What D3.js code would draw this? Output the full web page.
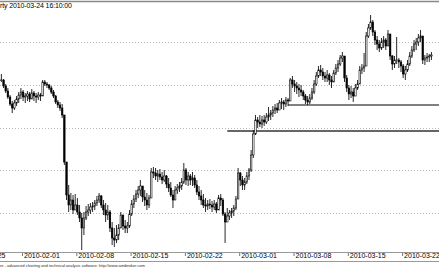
<!DOCTYPE html>
<html>
<head>
<meta charset="utf-8">
<script src="https://cdn.jsdelivr.net/npm/d3@7"></script>
<style>
html, body { margin: 0; padding: 0; background: #fff; overflow: hidden; }
svg { display: block; }
text { font-family: "Liberation Sans", Arial, sans-serif; }
</style>
</head>
<body>
<div id="chart"></div>
<script>
// trading day index 0 = Monday 2010-01-25, one tick per Monday
var weekDays = [0, 5, 10, 15, 20, 25, 30, 35, 40];
var weekLabels = ["2010-01-25", "2010-02-01", "2010-02-08", "2010-02-15", "2010-02-22",
                  "2010-03-01", "2010-03-08", "2010-03-15", "2010-03-22"];

// hourly-ish bars, first one on Thu 2010-01-28
var firstDay = 3, barsPerDay = 5;

var hi = [42.6,42.1,41.6,41.2,40.5,39.9,40.0,40.4,40.8,41.2,41.0,40.7,40.9,40.8,41.1,40.9,40.7,40.8,40.7,42.0,
          42.0,41.8,41.6,41.4,41.0,40.5,40.0,39.8,39.6,38.5,33.5,31.5,30.7,30.5,30.6,30.2,29.5,28.7,28.8,29.4,
          29.6,29.7,29.8,30.0,30.4,30.7,30.5,30.0,29.7,29.5,29.0,27.8,27.2,27.5,27.6,28.8,28.5,28.0,27.8,29.0,
          30.0,30.5,31.0,31.4,32.0,31.4,31.0,30.7,30.5,33.2,33.3,33.2,33.0,33.1,32.8,33.0,32.5,32.2,31.8,31.0,
          31.4,31.6,31.8,32.2,33.7,33.2,32.8,32.6,32.8,32.5,32.0,31.4,31.0,30.6,30.2,30.0,30.1,29.9,30.0,29.8,
          30.5,30.6,30.2,28.8,29.2,29.0,29.2,29.5,30.4,33.2,32.8,32.4,32.2,32.8,33.2,35.0,37.0,38.5,38.3,38.5,
          38.4,38.5,38.7,39.3,39.0,39.4,39.6,39.7,40.0,40.2,40.0,40.3,40.2,42.2,42.4,42.0,41.8,41.6,41.5,41.0,
          40.6,40.4,40.6,41.2,42.0,42.8,43.4,43.5,43.2,42.8,43.0,42.7,42.4,43.0,43.6,44.0,44.5,44.8,44.4,42.5,
          41.5,41.4,41.2,41.6,42.0,43.4,43.6,44.7,46.8,47.6,48.5,48.0,47.0,46.4,46.0,46.2,46.4,46.2,47.0,46.6,
          44.5,44.4,46.3,44.2,44.0,43.6,43.4,44.0,44.8,45.4,46.0,46.2,46.6,47.0,46.0,44.5,44.7,44.6,44.8];

var lo = [41.8,41.2,40.7,40.1,39.4,38.7,39.0,39.4,39.7,40.1,39.9,39.7,39.9,39.8,40.1,39.9,39.7,40.0,39.9,40.4,
          41.4,41.2,41.0,40.6,40.2,39.6,39.2,38.9,38.2,33.5,30.0,28.8,29.0,28.6,29.0,28.5,27.8,25.0,26.5,28.0,
          28.4,28.6,28.8,29.0,29.4,29.7,29.2,28.5,27.8,28.0,26.8,25.5,25.3,25.7,26.0,27.2,27.0,26.7,26.7,27.2,
          28.4,29.2,29.8,30.2,30.4,29.8,29.4,29.0,29.2,32.0,32.2,32.0,31.8,32.0,31.6,31.8,31.2,30.8,30.3,29.2,
          30.2,30.6,30.8,31.0,31.6,31.5,31.4,31.5,31.4,31.2,30.5,30.0,29.5,29.2,28.8,29.0,29.1,28.8,29.0,28.7,
          29.0,29.4,28.4,25.7,27.8,28.0,28.2,28.4,29.0,32.0,31.4,31.0,31.0,31.6,32.0,32.8,34.2,36.5,37.2,37.3,
          37.2,37.4,37.6,37.9,38.0,38.3,38.6,38.7,39.0,39.1,39.0,39.3,39.4,40.6,41.2,40.8,40.6,40.3,40.4,40.0,
          39.6,39.5,39.6,40.0,40.6,41.4,42.2,42.4,42.0,41.8,41.8,41.5,41.2,41.8,42.5,42.8,43.4,43.8,41.8,40.8,
          40.0,40.2,39.8,40.4,41.0,42.0,42.6,42.8,45.6,46.2,47.0,46.4,45.5,45.0,44.8,45.0,45.2,45.0,45.4,44.0,
          43.0,43.2,43.6,43.2,42.8,42.2,42.0,42.8,43.4,44.2,44.8,45.0,45.4,45.8,43.6,43.5,43.8,43.8,44.0];

var cl = [42.0,41.4,40.9,40.3,39.6,39.2,39.7,40.1,40.5,40.8,40.3,40.4,40.6,40.1,40.7,40.4,40.3,40.5,40.4,41.8,
          41.6,41.5,41.2,40.8,40.4,39.8,39.5,39.2,38.5,33.8,30.5,29.5,30.0,29.0,29.5,28.8,28.2,27.2,28.2,28.8,
          29.0,29.3,29.4,29.7,30.0,30.4,29.5,29.0,28.5,28.8,27.2,26.2,26.0,26.5,27.2,28.5,27.4,27.2,27.4,28.6,
          29.6,30.1,30.6,31.0,31.4,30.3,30.0,29.5,30.2,32.8,32.7,32.4,32.6,32.3,32.0,32.4,31.6,31.2,30.5,30.0,
          31.0,31.2,31.4,31.8,33.0,32.0,32.4,32.0,32.2,31.5,30.8,30.4,30.0,29.5,29.4,29.6,29.5,29.3,29.6,29.0,
          30.2,30.0,28.6,27.8,28.4,28.7,28.9,29.2,30.1,32.7,32.0,31.5,31.8,32.4,33.0,34.5,36.6,38.0,37.8,37.6,
          38.0,37.8,38.3,38.5,38.7,39.0,39.2,39.0,39.7,39.8,39.6,40.0,39.9,42.0,41.6,41.4,41.2,41.0,40.8,40.4,
          40.0,39.8,40.2,40.8,41.6,42.4,43.0,42.8,42.4,42.2,42.5,42.0,41.8,42.7,43.2,43.6,44.2,44.4,42.2,41.2,
          40.6,40.8,40.4,41.2,41.6,43.0,43.2,43.4,46.4,47.2,47.8,46.8,46.0,45.6,45.2,45.8,46.0,45.4,46.6,44.4,
          43.6,44.0,44.0,43.8,43.4,42.6,43.0,43.6,44.4,45.0,45.6,45.8,46.2,46.4,44.0,44.2,44.3,44.4,44.5];

var gridLevels = [28.75, 33, 37.25, 41.5, 45.75];

// horizontal study lines: price level and the bar they start from
var levelPrice = [36.9, 39.5];
var levelFromBar = [104, 132];
var levelColor = ["#333", "#555"];

var title = "rty 2010-03-24 16:10:00";
var footer = "er - advanced charting and technical analysis software. http://www.amibroker.com";

var width = 439, height = 268;
var axisY = 252;

var svg = d3.select("#chart").append("svg")
    .attr("width", width)
    .attr("height", height);

var x = d3.scaleLinear().domain([0, 40]).range([-32.3, 402.1]);
var y = d3.scaleLinear().domain([24.5, 50]).range([255, 0]);

function barT(i) { return firstDay + (i + 0.5) / barsPerDay; }

// dotted grid
svg.append("g").selectAll("line")
    .data(gridLevels)
    .enter().append("line")
    .attr("x1", 0).attr("x2", width)
    .attr("y1", d => Math.round(y(d)) + 0.5)
    .attr("y2", d => Math.round(y(d)) + 0.5)
    .attr("stroke", "#bbb")
    .attr("stroke-dasharray", "1,2");

// level lines
svg.append("g").selectAll("line")
    .data(levelPrice)
    .enter().append("line")
    .attr("x1", (d, i) => x(barT(levelFromBar[i])))
    .attr("x2", width)
    .attr("y1", d => y(d)).attr("y2", d => y(d))
    .attr("stroke", (d, i) => levelColor[i])
    .attr("stroke-width", 1.3);

// candles
var bars = cl.map((c, i) => ({
    t: barT(i),
    o: i > 0 ? cl[i - 1] : c,
    h: hi[i], l: lo[i], c: c
}));

var g = svg.append("g");
g.selectAll("line.wick")
    .data(bars)
    .enter().append("line")
    .attr("class", "wick")
    .attr("x1", d => x(d.t)).attr("x2", d => x(d.t))
    .attr("y1", d => y(Math.max(d.h, d.o)))
    .attr("y2", d => y(Math.min(d.l, d.o)))
    .attr("stroke", "#111")
    .attr("stroke-width", 0.9);

var bw = 1.5;
g.selectAll("rect")
    .data(bars)
    .enter().append("rect")
    .attr("x", d => x(d.t) - bw / 2)
    .attr("width", bw)
    .attr("y", d => y(Math.max(d.o, d.c)))
    .attr("height", d => Math.max(0.6, Math.abs(y(d.o) - y(d.c))))
    .attr("fill", d => d.c >= d.o ? "#fff" : "#000")
    .attr("stroke", "#000")
    .attr("stroke-width", 0.6);

// top border and title
svg.append("line")
    .attr("x1", 0).attr("x2", width)
    .attr("y1", 1.5).attr("y2", 1.5)
    .attr("stroke", "#888").attr("stroke-width", 1.5);

svg.append("text")
    .attr("x", 0).attr("y", 8)
    .attr("font-size", 7)
    .attr("textLength", 72)
    .attr("fill", "#000")
    .text(title);

// x axis
svg.append("rect")
    .attr("x", 0).attr("y", axisY).attr("width", width).attr("height", height - axisY)
    .attr("fill", "#fff");

var xAxis = d3.axisBottom(x)
    .tickValues(weekDays)
    .tickFormat((d, i) => weekLabels[i])
    .tickSize(4)
    .tickPadding(0);

var ax = svg.append("g")
    .attr("transform", "translate(0," + axisY + ")")
    .call(xAxis);
ax.select(".domain").remove();
ax.selectAll(".tick line").attr("stroke", "#777");
ax.selectAll(".tick text")
    .attr("text-anchor", "start")
    .attr("x", 1.5)
    .attr("y", 1.5)
    .attr("dy", "0.71em")
    .attr("font-size", 7)
    .attr("font-family", "Liberation Sans, Arial, sans-serif")
    .attr("fill", "#000");

svg.append("line")
    .attr("x1", 0).attr("x2", width)
    .attr("y1", axisY + 0.5).attr("y2", axisY + 0.5)
    .attr("stroke", "#999");

svg.append("line")
    .attr("x1", 0).attr("x2", width)
    .attr("y1", 261.5).attr("y2", 261.5)
    .attr("stroke", "#999");

svg.append("text")
    .attr("x", 0).attr("y", 266.5)
    .attr("font-size", 4.2)
    .attr("textLength", 145)
    .attr("fill", "#333")
    .text(footer);
</script>
</body>
</html>
